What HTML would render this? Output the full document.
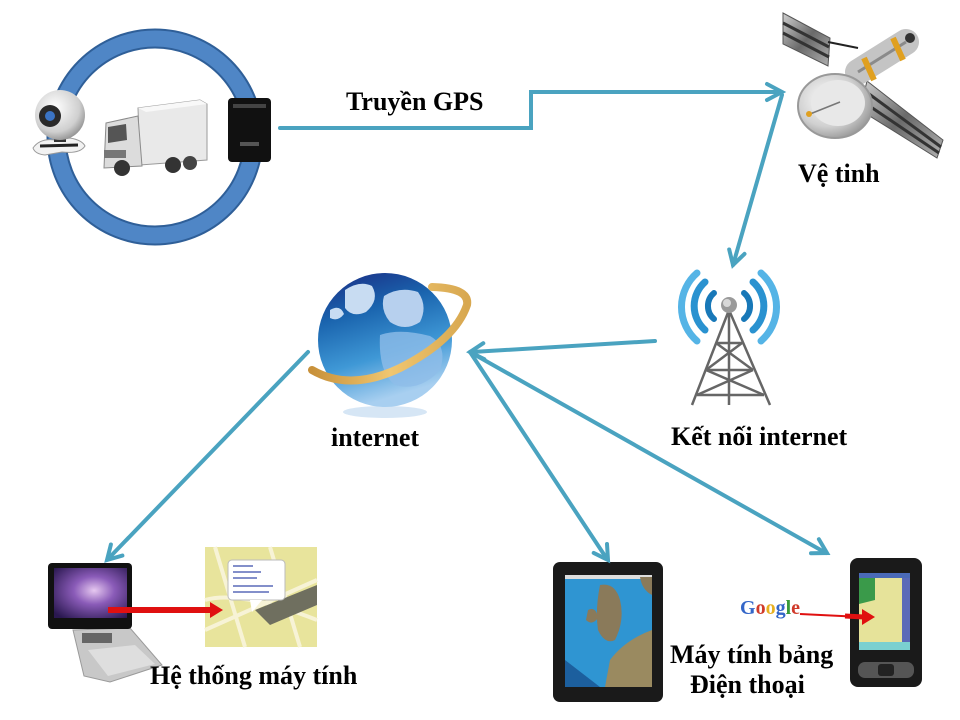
<!DOCTYPE html>
<html>
<head>
<meta charset="utf-8">
<style>
html,body{margin:0;padding:0;background:#fff;}
svg{display:block;}
.t{font-family:"Liberation Serif","Noto Serif CJK SC",serif;font-weight:bold;font-size:26px;fill:#000;}
</style>
</head>
<body>
<svg width="960" height="720" viewBox="0 0 960 720" xmlns="http://www.w3.org/2000/svg">
<defs>
  <linearGradient id="globeG" x1="0" y1="0" x2="0.3" y2="1">
    <stop offset="0" stop-color="#1b2a82"/>
    <stop offset="0.35" stop-color="#1a64ae"/>
    <stop offset="0.7" stop-color="#3f98d6"/>
    <stop offset="1" stop-color="#a8cff0"/>
  </linearGradient>
  <radialGradient id="screenG" cx="0.55" cy="0.45" r="0.7">
    <stop offset="0" stop-color="#e6c8f0"/>
    <stop offset="0.4" stop-color="#8a5bb8"/>
    <stop offset="1" stop-color="#2a1850"/>
  </radialGradient>
  <linearGradient id="panelG" x1="0" y1="0" x2="1" y2="1">
    <stop offset="0" stop-color="#d0d0d0"/>
    <stop offset="0.5" stop-color="#6a6a6a"/>
    <stop offset="1" stop-color="#b0b0b0"/>
  </linearGradient>
  <radialGradient id="dishG" cx="0.4" cy="0.4" r="0.7">
    <stop offset="0" stop-color="#ffffff"/>
    <stop offset="0.6" stop-color="#d0d0d0"/>
    <stop offset="1" stop-color="#8a8a8a"/>
  </radialGradient>
  <radialGradient id="camG" cx="0.4" cy="0.35" r="0.7">
    <stop offset="0" stop-color="#ffffff"/>
    <stop offset="0.7" stop-color="#cfcfcf"/>
    <stop offset="1" stop-color="#8d8d8d"/>
  </radialGradient>
  <linearGradient id="goldG" x1="0" y1="0" x2="1" y2="0">
    <stop offset="0" stop-color="#c8913a"/>
    <stop offset="0.5" stop-color="#f0c670"/>
    <stop offset="1" stop-color="#d8a850"/>
  </linearGradient>
</defs>

<!-- ring -->
<circle cx="155" cy="137" r="98.5" fill="none" stroke="#2f5f98" stroke-width="20"/>
<circle cx="155" cy="137" r="98.5" fill="none" stroke="#4f86c6" stroke-width="16"/>

<!-- webcam -->
<g>
  <path d="M33 148 Q40 138 55 140 L70 138 Q82 140 85 146 Q80 154 62 152 L45 155 Q35 154 33 148 Z" fill="#f2f2f2" stroke="#9a9a9a" stroke-width="1"/>
  <path d="M40 146 L78 145" stroke="#222" stroke-width="3"/>
  <rect x="54" y="128" width="12" height="14" fill="#333"/>
  <circle cx="60" cy="115" r="25" fill="url(#camG)"/>
  <circle cx="50" cy="116" r="11" fill="#2a2a2a"/>
  <circle cx="50" cy="116" r="5" fill="#3b74c4"/>
</g>

<!-- truck -->
<g>
  <polygon points="138,108 200,100 207,104 207,160 140,165" fill="#e9e9e9" stroke="#9a9a9a" stroke-width="1"/>
  <polygon points="138,108 200,100 207,104 146,112" fill="#f8f8f8"/>
  <polygon points="106,123 138,116 142,166 104,168" fill="#dcdcdc" stroke="#8a8a8a" stroke-width="1"/>
  <polygon points="108,127 126,124 127,140 108,143" fill="#555"/>
  <rect x="104" y="150" width="22" height="8" fill="#777"/>
  <circle cx="122" cy="168" r="8" fill="#333"/>
  <circle cx="173" cy="165" r="8" fill="#333"/>
  <circle cx="190" cy="163" r="7" fill="#444"/>
</g>

<!-- GPS device -->
<g>
  <rect x="228" y="98" width="43" height="64" rx="4" fill="#111"/>
  <rect x="233" y="104" width="33" height="4" fill="#444"/>
  <rect x="240" y="142" width="19" height="4" fill="#555"/>
</g>

<!-- satellite -->
<g>
  <polygon points="783,13 830,38 828,66 783,44" fill="url(#panelG)" stroke="#555" stroke-width="1"/>
  <line x1="783" y1="23" x2="829" y2="47" stroke="#333" stroke-width="3"/>
  <line x1="783" y1="33" x2="829" y2="57" stroke="#333" stroke-width="3"/>
  <line x1="828" y1="42" x2="858" y2="48" stroke="#222" stroke-width="2"/>
  <polygon points="867,81 943,140 937,158 860,110" fill="url(#panelG)" stroke="#555" stroke-width="1"/>
  <line x1="865" y1="91" x2="941" y2="147" stroke="#333" stroke-width="3"/>
  <line x1="862" y1="101" x2="939" y2="153" stroke="#333" stroke-width="3"/>
  <line x1="858" y1="72" x2="906" y2="42" stroke="#c4c4c4" stroke-width="26" stroke-linecap="round"/>
  <line x1="858" y1="72" x2="906" y2="42" stroke="#8a8a8a" stroke-width="3"/>
  <line x1="864" y1="58" x2="874" y2="80" stroke="#e0a020" stroke-width="6"/>
  <line x1="893" y1="38" x2="903" y2="60" stroke="#e0a020" stroke-width="6"/>
  <circle cx="910" cy="38" r="5" fill="#333"/>
  <ellipse cx="835" cy="106" rx="37" ry="32" fill="url(#dishG)" stroke="#999" stroke-width="2"/>
  <ellipse cx="838" cy="103" rx="27" ry="23" fill="#e8e8e8"/>
  <line x1="810" y1="114" x2="840" y2="102" stroke="#777" stroke-width="1.5"/>
  <circle cx="809" cy="114" r="3" fill="#e0a020"/>
</g>

<!-- globe -->
<g>
  <ellipse cx="385" cy="412" rx="42" ry="6" fill="#d6e6f5"/>
  <circle cx="385" cy="340" r="67" fill="url(#globeG)"/>
  <path d="M345 290 Q360 280 372 286 Q380 300 366 312 Q352 318 345 308 Z" fill="#c8dcf2"/>
  <path d="M384 296 Q400 286 418 292 Q428 306 420 322 Q405 332 390 322 Q380 310 384 296 Z" fill="#b7d0ee"/>
  <path d="M330 310 Q340 304 344 314 Q338 322 330 318 Z" fill="#c8dcf2"/>
  <path d="M380 335 Q400 328 430 336 Q448 346 440 370 Q420 392 395 385 Q378 372 380 335 Z" fill="#8fbde8" opacity="0.8"/>
  <path d="M312 370 Q350 392 400 368 Q455 340 467 305 Q470 288 432 287" fill="none" stroke="url(#goldG)" stroke-width="8" stroke-linecap="round"/>
</g>

<!-- tower -->
<g fill="none" stroke-linecap="round">
  <path d="M714 293 A17 17 0 0 0 714 319" stroke="#1878b8" stroke-width="6"/>
  <path d="M744 293 A17 17 0 0 1 744 319" stroke="#1878b8" stroke-width="6"/>
  <path d="M705 282 A32 32 0 0 0 705 330" stroke="#2a92d0" stroke-width="7"/>
  <path d="M753 282 A32 32 0 0 1 753 330" stroke="#2a92d0" stroke-width="7"/>
  <path d="M697 273 A45 45 0 0 0 697 341" stroke="#55b4e6" stroke-width="7"/>
  <path d="M761 273 A45 45 0 0 1 761 341" stroke="#55b4e6" stroke-width="7"/>
</g>
<g stroke="#666" stroke-width="2.5" fill="none">
  <path d="M729 310 L692 405 M729 310 L770 405 M729 310 L729 405"/>
  <path d="M716 343 L742 343 M706 370 L753 370 M697 395 L764 395"/>
  <path d="M716 343 L753 370 M742 343 L706 370 M706 370 L764 395 M753 370 L697 395"/>
</g>
<circle cx="729" cy="305" r="8" fill="#9a9a9a"/>
<circle cx="727" cy="303" r="4" fill="#d8d8d8"/>

<!-- laptop -->
<g>
  <polygon points="73,630 130,628 162,665 110,682 84,676" fill="#c8c8c8" stroke="#9a9a9a" stroke-width="1"/>
  <polygon points="88,650 135,645 155,664 108,676" fill="#dedede"/>
  <rect x="82" y="633" width="30" height="10" fill="#666"/>
  <rect x="48" y="563" width="84" height="66" rx="4" fill="#111"/>
  <rect x="54" y="568" width="73" height="50" fill="url(#screenG)"/>
</g>

<!-- map image -->
<g>
  <rect x="205" y="547" width="112" height="100" fill="#e8e49c"/>
  <path d="M205 600 Q240 590 317 620 M215 547 L245 647 M270 547 L300 647 M205 630 L317 580" stroke="#f7f3d6" stroke-width="4" fill="none"/>
  <polygon points="255,610 317,585 317,605 270,625" fill="#6f6f5f"/>
  <rect x="228" y="560" width="57" height="40" rx="4" fill="#fff" stroke="#bbb"/>
  <polygon points="250,600 262,600 252,612" fill="#fff"/>
  <path d="M233 566 h20 M233 572 h28 M233 578 h24 M233 586 h40 M233 592 h36" stroke="#5a6ab8" stroke-width="1.5"/>
</g>
<!-- red arrow laptop -->
<line x1="108" y1="610" x2="212" y2="610" stroke="#e01010" stroke-width="6"/>
<polygon points="210,602 223,610 210,618" fill="#e01010"/>

<!-- tablet -->
<g>
  <rect x="553" y="562" width="110" height="140" rx="7" fill="#1a1a1a"/>
  <rect x="565" y="575" width="87" height="112" fill="#2f95d2"/>
  <rect x="565" y="575" width="87" height="4" fill="#ddd"/>
  <path d="M600 585 Q615 582 620 600 Q625 620 615 640 Q605 645 598 630 Q595 610 600 585 Z" fill="#8a7a5a"/>
  <path d="M588 610 Q596 606 598 618 Q592 626 586 620 Z" fill="#8a7a5a"/>
  <path d="M605 687 L610 660 Q625 640 652 630 L652 687 Z" fill="#9a8a60"/>
  <path d="M640 577 L652 577 L652 595 Q642 590 640 577 Z" fill="#8a7a5a"/>
  <path d="M565 660 L600 687 L565 687 Z" fill="#1c5f9e"/>
</g>

<!-- Google -->
<text x="740" y="614" font-family="Liberation Serif, serif" font-size="20" font-weight="bold"><tspan fill="#3466c8">G</tspan><tspan fill="#d03a2a">o</tspan><tspan fill="#e8b020">o</tspan><tspan fill="#3466c8">g</tspan><tspan fill="#3a9a3a">l</tspan><tspan fill="#d03a2a">e</tspan></text>

<!-- phone -->
<g>
  <rect x="850" y="558" width="72" height="129" rx="8" fill="#1a1a1a"/>
  <rect x="859" y="573" width="51" height="77" fill="#e6e39a"/>
  <rect x="859" y="573" width="51" height="5" fill="#4a6ab8"/>
  <polygon points="859,578 875,578 875,600 859,604" fill="#3a9a4a"/>
  <rect x="902" y="578" width="8" height="66" fill="#5a6ab8"/>
  <rect x="859" y="642" width="51" height="8" fill="#7ad0d0"/>
  <rect x="858" y="662" width="56" height="16" rx="7" fill="#555"/>
  <rect x="878" y="664" width="16" height="12" rx="3" fill="#222"/>
</g>
<!-- red arrow phone -->
<line x1="800" y1="614" x2="862" y2="617" stroke="#e01010" stroke-width="2"/>
<line x1="845" y1="616" x2="864" y2="617" stroke="#e01010" stroke-width="5"/>
<polygon points="862,609 875,617 862,625" fill="#e01010"/>

<!-- connectors -->
<g stroke="#4aa3c0" stroke-width="4" fill="none" stroke-linejoin="miter" stroke-linecap="round">
  <polyline points="280,128 531,128 531,92 781,92"/>
  <polyline points="767,84 782,92 767,100"/>
  <line x1="782" y1="95" x2="733" y2="265"/>
  <polyline points="744.5,253.9 733,265 729.2,249.5"/>
  <line x1="655" y1="341" x2="472" y2="352"/>
  <polyline points="484.3,359.2 470,352 483.3,343.2"/>
  <line x1="308" y1="352" x2="108" y2="559"/>
  <polyline points="122.4,555.6 107,560 110.9,544.5"/>
  <line x1="470" y1="352" x2="607" y2="559"/>
  <polyline points="607,544 608,560 593.7,552.9"/>
  <line x1="470" y1="352" x2="826" y2="553"/>
  <polyline points="818.9,539.2 827,553 811,553.2"/>
</g>

<!-- labels -->
<text class="t" x="346" y="110">Truyền GPS</text>
<text class="t" x="798" y="182">Vệ tinh</text>
<text class="t" x="331" y="446">internet</text>
<text class="t" x="671" y="445">Kết nối internet</text>
<text class="t" x="150" y="684">Hệ thống máy tính</text>
<text class="t" x="670" y="663">Máy tính bảng</text>
<text class="t" x="690" y="693">Điện thoại</text>
</svg>
</body>
</html>
